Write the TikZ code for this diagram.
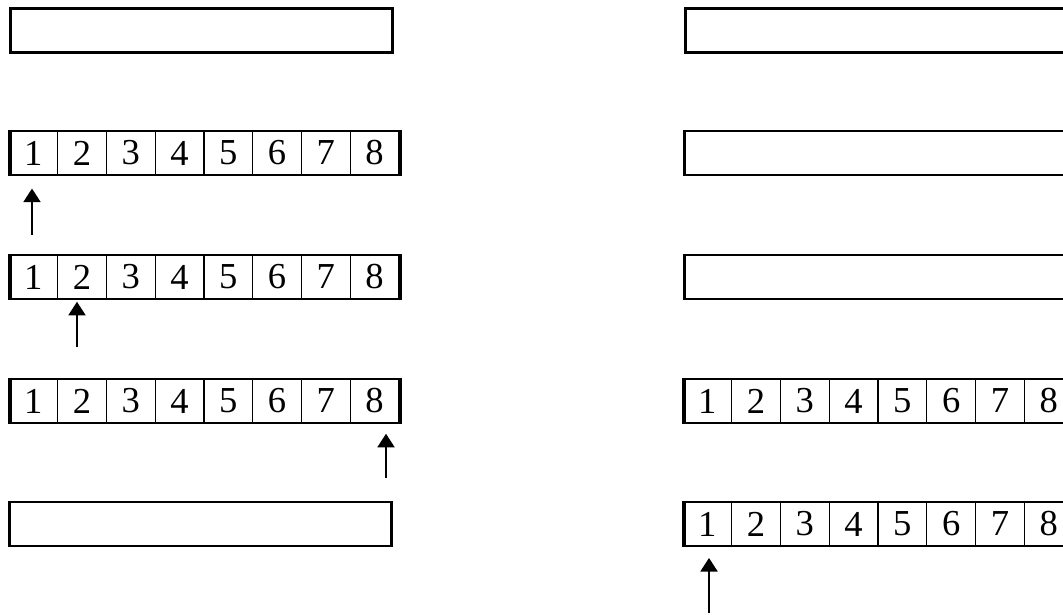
\documentclass[tikz,border=0pt]{standalone}
\usepackage{fontspec}
\setmainfont{Liberation Serif}
\usepackage{tikz}
\usetikzlibrary{arrows.meta,positioning}

\begin{document}
\begin{tikzpicture}[x=0.025cm, y=-0.025cm, every node/.style={font=\fontsize{26}{31}\selectfont},
    slot/.style={draw, line width=1pt, minimum width=1.219cm, minimum height=1.1cm, inner sep=0pt},
    bar/.style={draw, line width=1.8pt, minimum height=1.1cm, inner sep=0pt, anchor=west},
    ptr/.style={line width=1.8pt, -{Triangle[length=3.4mm,width=4.2mm]}}]
    \useasboundingbox (0,0) rectangle (1063,614);
    \clip (0,0) rectangle (1063,614);

    % empty rows
    \node (L1) [bar, minimum width=9.55cm] at (9,30.5) {};
    \node (L5) [bar, minimum width=9.55cm] at (8,524) {};
    \node (R1) [bar, minimum width=9.75cm] at (684,30.5) {};
    \node (R2) [bar, minimum width=9.75cm] at (683,153) {};
    \node (R3) [bar, minimum width=9.75cm] at (683,277) {};

    % filled rows
    \foreach \r/\x/\y in {L2/9/153, L3/9/277, L4/9/401, R4/683/401, R5/683/524} {
      \foreach \i in {1,...,8}
        \node (\r-\i) [slot] at ({\x+48.75*(\i-0.5)},\y) {\i};
      \node (\r) [bar, minimum width=9.75cm] at (\x,\y) {};
    }

    % pointers
    \coordinate (t2) at (32,235);
    \coordinate (t3) at (77,347);
    \coordinate (t4) at (386,478);
    \coordinate (t5) at (709,613);
    \draw[ptr, shorten >=0.32cm] (t2) -- (t2 |- L2-1.south);
    \draw[ptr, shorten >=0.05cm] (t3) -- (t3 |- L3-2.south);
    \draw[ptr, shorten >=0.25cm] (t4) -- (t4 |- L4-8.south);
    \draw[ptr, shorten >=0.28cm] (t5) -- (t5 |- R5-1.south);
  \end{tikzpicture}
\end{document}
